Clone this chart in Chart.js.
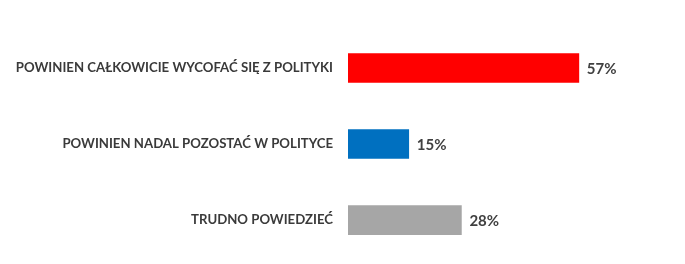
<!DOCTYPE html>
<html><head><meta charset="utf-8">
<script src="https://cdn.jsdelivr.net/npm/chart.js@4"></script>
<style>html,body{margin:0;padding:0;background:#fff;overflow:hidden}#w{position:relative;width:685px;height:273px}</style>
</head><body><div id="w"><canvas id="c"></canvas></div>
<script>
const categories = ["POWINIEN CAŁKOWICIE WYCOFAĆ SIĘ Z POLITYKI", "POWINIEN NADAL POZOSTAĆ W POLITYCE", "TRUDNO POWIEDZIEĆ"];
const values = [57, 15, 28];
const barColors = ["#ff0000", "#0070c0", "#a6a6a6"];

const valueLabels = {
  id: 'valueLabels',
  afterDatasetsDraw(chart) {
    const ctx = chart.ctx;
    const meta = chart.getDatasetMeta(0);
    ctx.save();
    ctx.font = 'bold 15px Lato, "Open Sans", sans-serif';
    ctx.fillStyle = '#404040';
    ctx.textAlign = 'left';
    ctx.textBaseline = 'middle';
    meta.data.forEach((bar, i) => {
      ctx.fillText(values[i] + '%', bar.x + 8, bar.y + 1);
    });
    ctx.restore();
  }
};

new Chart(document.getElementById('c'), {
  type: 'bar',
  data: { labels: categories, datasets: [{ data: values, backgroundColor: barColors, barThickness: 29, borderWidth: 0 }] },
  options: {
    indexAxis: 'y',
    responsive: true, maintainAspectRatio: false, animation: false,
    layout: { padding: { top: 30, bottom: 0, left: 0, right: 13 } },
    plugins: { legend: { display: false }, tooltip: { enabled: false } },
    scales: {
      x: { display: false, min: 0, max: 80 },
      y: {
        grid: { display: false }, border: { display: false },
        ticks: { color: '#3a3a3a', font: { family: 'Lato, "Open Sans", sans-serif', weight: 'bold', size: 13.2 }, padding: 7 },
        afterFit(scale) { scale.width = 348; }
      }
    }
  },
  plugins: [valueLabels]
});
</script></body></html>
